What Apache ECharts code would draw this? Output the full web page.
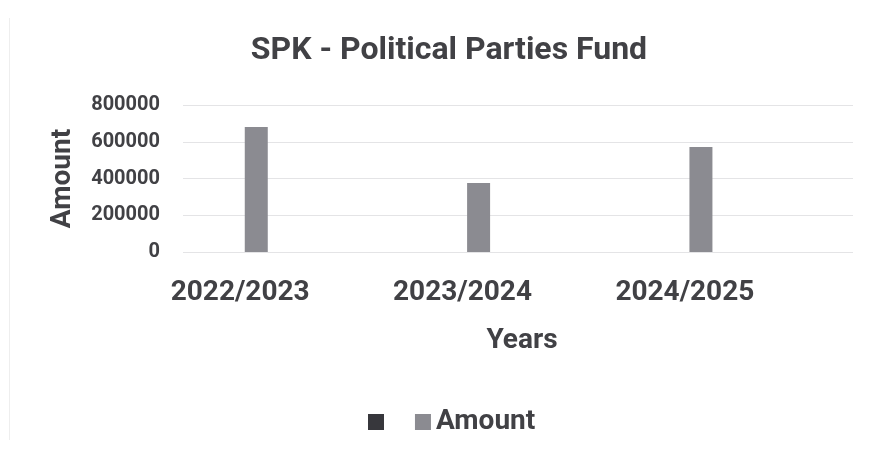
<!DOCTYPE html>
<html>
<head>
<meta charset="utf-8">
<script src="https://cdn.jsdelivr.net/npm/echarts@6/dist/echarts.min.js"></script>
<style>
  html, body { margin: 0; padding: 0; background: #fff; }
  #chart { width: 877px; height: 461px; }
</style>
</head>
<body>
<div id="chart"></div>
<script>
// data
const years = ['2022/2023', '2023/2024', '2024/2025']
const amounts = [680000, 375000, 572000]
const blankSeries = [null, null, null]   // the unnamed, empty series in the legend
const yTicks = { min: 0, max: 800000, interval: 200000 }

const TEXT = '#414145'
const FONT = 'Roboto'

const chart = echarts.init(document.getElementById('chart'))

chart.setOption({
  backgroundColor: '#fff',
  animation: false,
  textStyle: { fontFamily: FONT },

  title: {
    text: 'SPK - Political Parties Fund',
    left: 444,
    textAlign: 'center',
    top: 30,
    textStyle: { fontSize: 32, fontWeight: 'bold', color: TEXT, fontFamily: FONT }
  },

  legend: {
    left: 363,
    top: 403,
    itemWidth: 16,
    itemHeight: 16,
    itemGap: 19,
    icon: 'rect',
    textStyle: { fontSize: 28, fontWeight: 'bold', color: TEXT, fontFamily: FONT },
    data: [' ', 'Amount']
  },

  // grid 0 = plot area with gridlines and axis titles, grid 1 = where the bars sit
  grid: [
    { left: 183, right: 24, top: 105, bottom: 209 },
    { left: 129, right: 81, top: 105, bottom: 209 }
  ],

  xAxis: [
    {
      gridIndex: 0,
      type: 'category',
      data: years,
      axisLine: { show: false },
      axisTick: { show: false },
      axisLabel: { show: false },
      name: 'Years',
      nameLocation: 'middle',
      nameGap: 75,
      nameTextStyle: { fontSize: 28, fontWeight: 'bold', color: TEXT, fontFamily: FONT, padding: [0, 0, 0, 8] }
    },
    {
      gridIndex: 1,
      type: 'category',
      data: years,
      axisLine: { show: false },
      axisTick: { show: false },
      axisLabel: { margin: 27, fontSize: 28, fontWeight: 'bold', color: TEXT, fontFamily: FONT }
    }
  ],

  yAxis: [
    {
      gridIndex: 0,
      type: 'value',
      min: yTicks.min,
      max: yTicks.max,
      interval: yTicks.interval,
      axisLine: { show: false },
      axisTick: { show: false },
      axisLabel: {
        margin: 23,
        fontSize: 20,
        fontWeight: 'bold',
        color: TEXT,
        fontFamily: FONT,
        formatter: v => String(v)
      },
      splitLine: { lineStyle: { color: '#e4e4e6', width: 1 } },
      name: 'Amount',
      nameLocation: 'middle',
      nameGap: 106,
      nameTextStyle: { fontSize: 28, fontWeight: 'bold', color: TEXT, fontFamily: FONT }
    },
    {
      gridIndex: 1,
      type: 'value',
      min: yTicks.min,
      max: yTicks.max,
      show: false,
      splitLine: { show: false }
    }
  ],

  series: [
    {
      name: ' ',
      type: 'bar',
      xAxisIndex: 1,
      yAxisIndex: 1,
      barWidth: 23,
      barGap: '40%',
      itemStyle: { color: '#37373c' },
      data: blankSeries
    },
    {
      name: 'Amount',
      type: 'bar',
      xAxisIndex: 1,
      yAxisIndex: 1,
      barWidth: 23,
      barGap: '40%',
      itemStyle: { color: '#8b8b91' },
      data: amounts
    }
  ],

  graphic: [
    {
      type: 'line',
      shape: { x1: 9.5, y1: 18, x2: 9.5, y2: 440 },
      style: { stroke: '#eeeeee', lineWidth: 1 },
      silent: true
    }
  ]
})
</script>
</body>
</html>
